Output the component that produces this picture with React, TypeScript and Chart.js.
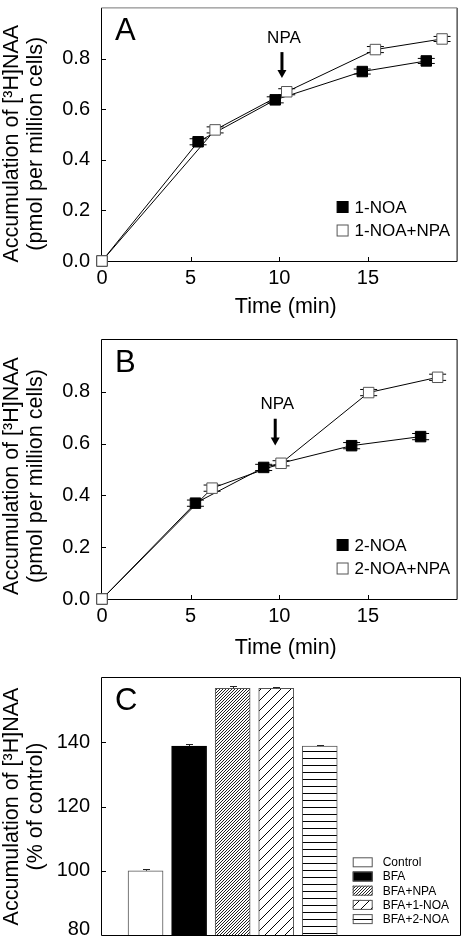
import React, { useEffect, useRef } from 'react';
import { Chart, registerables } from 'chart.js';

Chart.register(...registerables);

const FONT = '"Liberation Sans", Arial, Helvetica, sans-serif';

// ---------- Panel A ----------
const A_NOA_TIME = [0, 5.42, 9.77, 14.68, 18.29];
const A_NOA_VALUE = [0, 0.472, 0.638, 0.75, 0.792];
const A_NOA_ERROR = [0, 0.012, 0.012, 0.01, 0.01];
const A_NPA_TIME = [0, 6.38, 10.42, 15.42, 19.18];
const A_NPA_VALUE = [0, 0.519, 0.67, 0.837, 0.879];
const A_NPA_ERROR = [0, 0.012, 0.012, 0.012, 0.01];
const A_SERIES_NAMES = ['1-NOA', '1-NOA+NPA'];
const A_ARROW = [10.15, 0.827, 0.724]; // time, start value, tip value

// ---------- Panel B ----------
const B_NOA_TIME = [0, 5.27, 9.12, 14.08, 17.97];
const B_NOA_VALUE = [0, 0.37, 0.508, 0.592, 0.627];
const B_NOA_ERROR = [0, 0.012, 0.012, 0.012, 0.012];
const B_NPA_TIME = [0, 6.21, 10.1, 15.04, 18.93];
const B_NPA_VALUE = [0, 0.428, 0.524, 0.797, 0.856];
const B_NPA_ERROR = [0, 0.012, 0.01, 0.012, 0.012];
const B_SERIES_NAMES = ['2-NOA', '2-NOA+NPA'];
const B_ARROW = [9.77, 0.696, 0.593];

const TIME_RANGE = [0, 20];
const TIME_STEP = 5;
const LINE_Y_RANGE = [0, 1];
const LINE_Y_STEP = 0.2;
const LINE_Y_TITLE = ['Accumulation of [³H]NAA', '(pmol per million cells)'];
const X_TITLE = 'Time (min)';
const ARROW_LABEL = 'NPA';

// ---------- Panel C ----------
const C_CATEGORIES = ['Control', 'BFA', 'BFA+NPA', 'BFA+1-NOA', 'BFA+2-NOA'];
const C_VALUES = [100, 138.8, 156.8, 156.8, 138.8];
const C_ERRORS = [0.6, 0.5, 0.75, 0.5, 0.3];
const C_Y_RANGE = [80, 160];
const C_Y_STEP = 20;
const C_X_RANGE = [0, 8.22];
const C_Y_TITLE = ['Accumulation of [³H]NAA', '(% of control)'];

function drawYTitle(ctx: any, lines: string[], cy: number) {
  ctx.save();
  ctx.fillStyle = '#000';
  ctx.font = `21.5px ${FONT}`;
  ctx.textAlign = 'center';
  ctx.textBaseline = 'middle';
  ctx.translate(12, cy);
  ctx.rotate(-Math.PI / 2);
  lines.forEach((l, i) => ctx.fillText(l, 0, i * 24));
  ctx.restore();
}

function drawFrame(ctx: any, a: any, topColor = '#000') {
  ctx.save();
  ctx.lineWidth = 1;
  ctx.strokeStyle = '#000';
  ctx.beginPath();
  ctx.moveTo(a.left - 0.5, a.top - 0.5);
  ctx.lineTo(a.left - 0.5, a.bottom + 0.5);
  ctx.lineTo(a.right + 0.5, a.bottom + 0.5);
  ctx.lineTo(a.right + 0.5, a.top - 0.5);
  ctx.stroke();
  ctx.strokeStyle = topColor;
  ctx.beginPath();
  ctx.moveTo(a.left - 0.5, a.top - 0.5);
  ctx.lineTo(a.right + 0.5, a.top - 0.5);
  ctx.stroke();
  ctx.restore();
}

function drawLetter(ctx: any, a: any, letter: string) {
  ctx.save();
  ctx.fillStyle = '#000';
  ctx.font = `31px ${FONT}`;
  ctx.textAlign = 'left';
  ctx.textBaseline = 'alphabetic';
  ctx.fillText(letter, a.left + 13, a.top + 32);
  ctx.restore();
}

const zeroPad = (s: any) => {
  s.paddingTop = 0;
  s.paddingBottom = 0;
  s.paddingLeft = 0;
  s.paddingRight = 0;
};

type Series = { time: number[]; value: number[]; error: number[] };

type LineProps = {
  top: number;
  height: number;
  padTop: number;
  axisHeight: number;
  letter: string;
  filled: Series;
  open: Series;
  names: string[];
  arrow: number[];
  titleShift: number;
  xTitleBaseline: number;
  topColor: string;
};

function LinePanel(p: LineProps) {
  const ref = useRef<HTMLCanvasElement>(null);
  useEffect(() => {
    const canvas = ref.current as HTMLCanvasElement;
    const list = [
      { s: p.open, filled: false, name: p.names[1] },
      { s: p.filled, filled: true, name: p.names[0] },
    ];
    const decor = {
      id: 'decor',
      beforeDatasetsDraw(chart: any) {
        const { ctx, chartArea: a, scales } = chart;
        const xs = scales.x;
        const ys = scales.y;
        drawFrame(ctx, a, p.topColor);
        ctx.save();
        ctx.strokeStyle = '#000';
        ctx.lineWidth = 1;
        ctx.beginPath();
        for (let v = TIME_RANGE[0] + TIME_STEP; v < TIME_RANGE[1] - 1e-6; v += TIME_STEP) {
          const x = Math.round(xs.getPixelForValue(v)) + 0.5;
          ctx.moveTo(x, a.bottom);
          ctx.lineTo(x, a.bottom - 4);
        }
        for (let v = LINE_Y_RANGE[0] + LINE_Y_STEP; v < LINE_Y_RANGE[1] - 1e-6; v += LINE_Y_STEP) {
          const y = Math.round(ys.getPixelForValue(v)) + 0.5;
          ctx.moveTo(a.left, y);
          ctx.lineTo(a.left + 4, y);
        }
        ctx.stroke();
        // error bars
        ctx.beginPath();
        list.forEach(({ s }) => {
          s.time.forEach((t, i) => {
            const e = s.error[i];
            if (!e) return;
            const x = xs.getPixelForValue(t);
            const y1 = ys.getPixelForValue(s.value[i] + e);
            const y2 = ys.getPixelForValue(s.value[i] - e);
            ctx.moveTo(x, y1);
            ctx.lineTo(x, y2);
            ctx.moveTo(x - 8.5, y1);
            ctx.lineTo(x + 8.5, y1);
            ctx.moveTo(x - 8.5, y2);
            ctx.lineTo(x + 8.5, y2);
          });
        });
        ctx.stroke();
        ctx.restore();
      },
      afterDatasetsDraw(chart: any) {
        const { ctx, chartArea: a, scales } = chart;
        const xs = scales.x;
        const ys = scales.y;
        drawLetter(ctx, a, p.letter);
        // arrow
        const ax = xs.getPixelForValue(p.arrow[0]);
        const y0 = ys.getPixelForValue(p.arrow[1]);
        const y1 = ys.getPixelForValue(p.arrow[2]);
        ctx.save();
        ctx.strokeStyle = '#000';
        ctx.fillStyle = '#000';
        ctx.lineWidth = 3;
        ctx.beginPath();
        ctx.moveTo(ax, y0);
        ctx.lineTo(ax, y1 - 7);
        ctx.stroke();
        ctx.beginPath();
        ctx.moveTo(ax - 4.5, y1 - 8);
        ctx.lineTo(ax + 4.5, y1 - 8);
        ctx.lineTo(ax, y1);
        ctx.closePath();
        ctx.fill();
        ctx.font = `17px ${FONT}`;
        ctx.textAlign = 'center';
        ctx.textBaseline = 'alphabetic';
        ctx.fillText(ARROW_LABEL, ax + 2, y0 - 9.5);
        // legend
        const mx = a.right - 114;
        [
          { filled: true, name: p.names[0] },
          { filled: false, name: p.names[1] },
        ].forEach((it, i) => {
          const y = a.bottom - 54 + i * 23.5;
          ctx.fillStyle = it.filled ? '#000' : '#fff';
          ctx.fillRect(mx - 5.5, y - 5.5, 11, 11);
          ctx.lineWidth = 1;
          ctx.strokeStyle = it.filled ? '#000' : '#555';
          ctx.strokeRect(mx - 5.5, y - 5.5, 11, 11);
          ctx.fillStyle = '#000';
          ctx.font = `17px ${FONT}`;
          ctx.textAlign = 'left';
          ctx.textBaseline = 'middle';
          ctx.fillText(it.name, a.right - 102, y + 1);
        });
        // x title
        ctx.font = `21.5px ${FONT}`;
        ctx.textAlign = 'center';
        ctx.textBaseline = 'alphabetic';
        ctx.fillText(X_TITLE, (a.left + a.right) / 2 + 6.5, a.bottom + p.xTitleBaseline);
        ctx.restore();
        drawYTitle(ctx, LINE_Y_TITLE, (a.top + a.bottom) / 2 + p.titleShift);
      },
    };
    const chart = new Chart(canvas, {
      type: 'scatter',
      data: {
        datasets: list.map(({ s, filled, name }, k) => ({
          label: name,
          data: s.time.map((t, i) => ({ x: t, y: s.value[i] })),
          showLine: true,
          borderColor: '#000',
          borderWidth: 1,
          pointStyle: 'rect',
          pointRadius: 7.4,
          pointHoverRadius: 7.4,
          pointBackgroundColor: filled ? '#000' : '#fff',
          pointBorderColor: filled ? '#000' : '#555',
          pointBorderWidth: 1,
          tension: 0,
          fill: false,
          clip: false,
          order: k,
        })),
      },
      options: {
        responsive: false,
        animation: false,
        events: [],
        layout: { padding: { top: p.padTop, right: 3, left: 0, bottom: 0 } },
        plugins: { legend: { display: false }, tooltip: { enabled: false } },
        scales: {
          x: {
            type: 'linear',
            min: TIME_RANGE[0],
            max: TIME_RANGE[1],
            grid: { display: false, drawTicks: false },
            border: { display: false },
            ticks: {
              stepSize: TIME_STEP,
              color: '#000',
              font: { family: FONT, size: 20 },
              padding: 5,
              maxRotation: 0,
              autoSkip: false,
              callback: (v: any) => (v >= TIME_RANGE[1] ? '' : String(v)),
            },
            afterFit: (s: any) => {
              s.height = p.axisHeight;
              zeroPad(s);
            },
          },
          y: {
            type: 'linear',
            min: LINE_Y_RANGE[0],
            max: LINE_Y_RANGE[1],
            grid: { display: false, drawTicks: false },
            border: { display: false },
            ticks: {
              stepSize: LINE_Y_STEP,
              color: '#000',
              font: { family: FONT, size: 20 },
              padding: 12,
              callback: (v: any) => (v > LINE_Y_RANGE[1] - 1e-6 ? '' : Number(v).toFixed(1)),
            },
            afterFit: (s: any) => {
              s.width = 102;
              zeroPad(s);
            },
          },
        },
      },
      plugins: [decor],
    } as any);
    return () => chart.destroy();
  }, []);
  return (
    <canvas
      ref={ref}
      width={465}
      height={p.height}
      style={{ position: 'absolute', left: 0, top: p.top, width: 465, height: p.height }}
    />
  );
}

function makeFills() {
  const mk = (w: number, h: number, draw: (g: any) => void) => {
    const c = document.createElement('canvas');
    c.width = w;
    c.height = h;
    const g = c.getContext('2d') as any;
    g.fillStyle = '#fff';
    g.fillRect(0, 0, w, h);
    draw(g);
    const ctx = document.createElement('canvas').getContext('2d') as any;
    return ctx.createPattern(c, 'repeat');
  };
  const diag = (size: number, color: string) => (g: any) => {
    g.strokeStyle = color;
    g.lineWidth = 1;
    g.beginPath();
    for (const k of [-size, 0, size]) {
      g.moveTo(k, size);
      g.lineTo(k + size, 0);
    }
    g.stroke();
  };
  const dense = mk(3, 3, diag(3, '#222'));
  const sparse = mk(10, 10, diag(10, '#000'));
  const horiz = mk(4, 7, (g: any) => {
    g.fillStyle = '#000';
    g.fillRect(0, 0, 4, 1);
  });
  return ['#fff', '#000', dense, sparse, horiz];
}

function BarPanel({ top, height }: { top: number; height: number }) {
  const ref = useRef<HTMLCanvasElement>(null);
  useEffect(() => {
    const canvas = ref.current as HTMLCanvasElement;
    const fills = makeFills();
    const borders = ['#555', '#000', '#555', '#555', '#555'];
    const decor = {
      id: 'decorC',
      beforeDatasetsDraw(chart: any) {
        const { ctx, chartArea: a, scales } = chart;
        drawFrame(ctx, a);
        ctx.save();
        ctx.strokeStyle = '#000';
        ctx.lineWidth = 1;
        ctx.beginPath();
        for (let v = C_Y_RANGE[0] + C_Y_STEP; v < C_Y_RANGE[1] - 1e-6; v += C_Y_STEP) {
          const y = Math.round(scales.y.getPixelForValue(v)) + 0.5;
          ctx.moveTo(a.left, y);
          ctx.lineTo(a.left + 4, y);
        }
        ctx.stroke();
        ctx.restore();
      },
      afterDatasetsDraw(chart: any) {
        const { ctx, chartArea: a, scales } = chart;
        const xs = scales.x;
        const ys = scales.y;
        ctx.save();
        ctx.strokeStyle = '#222';
        ctx.lineWidth = 1;
        ctx.beginPath();
        C_VALUES.forEach((v, i) => {
          const x = Math.round(xs.getPixelForValue(i + 1)) + 0.5;
          const y0 = ys.getPixelForValue(v);
          const y1 = Math.round(ys.getPixelForValue(v + C_ERRORS[i])) + 0.5;
          ctx.moveTo(x, y0);
          ctx.lineTo(x, y1);
          ctx.moveTo(x - 3.5, y1);
          ctx.lineTo(x + 3.5, y1);
        });
        ctx.stroke();
        // bottom tick label kept inside the page, as in the original
        ctx.fillStyle = '#000';
        ctx.font = `20px ${FONT}`;
        ctx.textAlign = 'right';
        ctx.textBaseline = 'alphabetic';
        ctx.fillText(String(C_Y_RANGE[0]), a.left - 12, ys.getPixelForValue(C_Y_RANGE[0]));
        // legend
        const bx = a.right - 107.3;
        C_CATEGORIES.forEach((name, i) => {
          const y = a.bottom - 72.7 + i * 14.2;
          ctx.fillStyle = fills[i];
          ctx.fillRect(bx, y - 5, 20, 10);
          ctx.strokeStyle = '#555';
          ctx.strokeRect(bx + 0.5, y - 4.5, 19, 9);
          ctx.fillStyle = '#000';
          ctx.font = `12px ${FONT}`;
          ctx.textAlign = 'left';
          ctx.textBaseline = 'middle';
          ctx.fillText(name, a.right - 77.3, y + 0.5);
        });
        ctx.restore();
        drawLetter(ctx, a, 'C');
        drawYTitle(ctx, C_Y_TITLE, (a.top + a.bottom) / 2);
      },
    };
    const chart = new Chart(canvas, {
      type: 'bar',
      data: {
        datasets: [
          {
            label: 'Accumulation',
            data: C_VALUES.map((v, i) => ({ x: i + 1, y: v })),
            backgroundColor: fills,
            borderColor: borders,
            borderWidth: 1,
            borderSkipped: false,
            barThickness: 35,
          },
        ],
      },
      options: {
        responsive: false,
        animation: false,
        events: [],
        layout: { padding: { top: 18, right: 5, left: 0, bottom: 3 } },
        plugins: { legend: { display: false }, tooltip: { enabled: false } },
        scales: {
          x: {
            type: 'linear',
            display: false,
            offset: false,
            min: C_X_RANGE[0],
            max: C_X_RANGE[1],
            ticks: { stepSize: 1 },
            grid: { display: false, offset: false },
            afterFit: zeroPad,
          },
          y: {
            type: 'linear',
            min: C_Y_RANGE[0],
            max: C_Y_RANGE[1],
            grid: { display: false, drawTicks: false },
            border: { display: false },
            ticks: {
              stepSize: C_Y_STEP,
              color: '#000',
              font: { family: FONT, size: 20 },
              padding: 12,
              callback: (v: any) =>
                v >= C_Y_RANGE[1] || v <= C_Y_RANGE[0] ? '' : String(v),
            },
            afterFit: (s: any) => {
              s.width = 102;
              zeroPad(s);
            },
          },
        },
      },
      plugins: [decor],
    } as any);
    return () => chart.destroy();
  }, []);
  return (
    <canvas
      ref={ref}
      width={465}
      height={height}
      style={{ position: 'absolute', left: 0, top, width: 465, height }}
    />
  );
}

export default function App() {
  useEffect(() => {
    document.body.style.margin = '0';
  }, []);
  return (
    <div
      style={{
        position: 'fixed',
        left: 0,
        top: 0,
        width: 465,
        height: 938,
        background: '#fff',
        overflow: 'hidden',
      }}
    >
      <LinePanel
        top={0}
        height={320}
        padTop={1}
        axisHeight={59}
        letter="A"
        filled={{ time: A_NOA_TIME, value: A_NOA_VALUE, error: A_NOA_ERROR }}
        open={{ time: A_NPA_TIME, value: A_NPA_VALUE, error: A_NPA_ERROR }}
        names={A_SERIES_NAMES}
        arrow={A_ARROW}
        titleShift={9}
        xTitleBaseline={52.4}
        topColor="#777"
      />
      <LinePanel
        top={320}
        height={340}
        padTop={20}
        axisHeight={61}
        letter="B"
        filled={{ time: B_NOA_TIME, value: B_NOA_VALUE, error: B_NOA_ERROR }}
        open={{ time: B_NPA_TIME, value: B_NPA_VALUE, error: B_NPA_ERROR }}
        names={B_SERIES_NAMES}
        arrow={B_ARROW}
        titleShift={6.5}
        xTitleBaseline={55.4}
        topColor="#000"
      />
      <BarPanel top={660} height={278} />
    </div>
  );
}
